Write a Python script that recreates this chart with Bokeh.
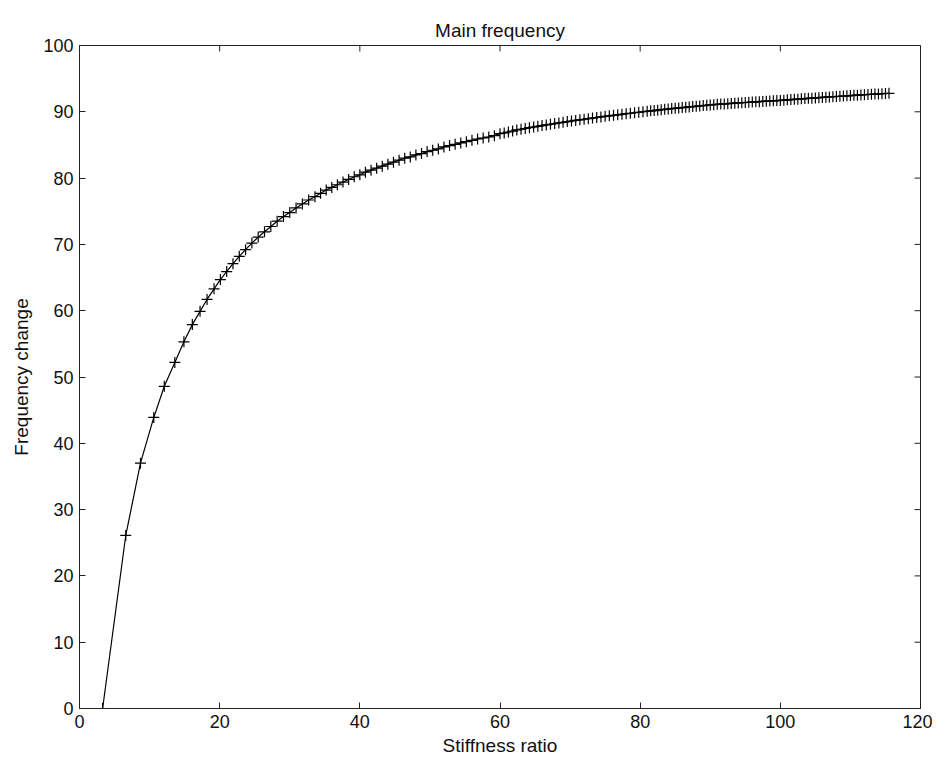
import math
from bokeh.plotting import figure
from bokeh.models import Range1d, FixedTicker
from bokeh.embed import file_html
from bokeh.resources import INLINE

stiffness_ratio = [
    3.3, 6.6, 8.7, 10.6, 12.1, 13.6, 14.9, 16.1, 17.2, 18.2, 19.2, 20.1, 21.0, 21.9, 22.8, 23.7,
    24.6, 25.5, 26.4, 27.3, 28.2, 29.1, 30.0, 30.9, 31.8, 32.7, 33.6, 34.4, 35.2, 36.0, 36.8,
    37.6, 38.4, 39.2, 40.0, 40.8, 41.6, 42.4, 43.2, 44.0, 44.8, 45.6, 46.4, 47.2, 48.0, 48.8,
    49.6, 50.4, 51.2, 52.0, 52.8, 53.6, 54.4, 55.2, 56.0, 56.8, 57.6, 58.4, 59.2, 60.0, 60.6,
    61.2, 61.8, 62.4, 63.0, 63.6, 64.2, 64.8, 65.4, 66.0, 66.6, 67.2, 67.8, 68.4, 69.0, 69.6,
    70.2, 70.8, 71.4, 72.0, 72.6, 73.2, 73.8, 74.4, 75.0, 75.6, 76.2, 76.8, 77.4, 78.0, 78.6,
    79.2, 79.8, 80.4, 81.0, 81.5, 82.0, 82.5, 83.0, 83.5, 84.0, 84.5, 85.0, 85.5, 86.0, 86.5,
    87.0, 87.5, 88.0, 88.5, 89.0, 89.5, 90.0, 90.5, 91.0, 91.5, 92.0, 92.5, 93.0, 93.5, 94.0,
    94.5, 95.0, 95.5, 96.0, 96.5, 97.0, 97.5, 98.0, 98.5, 99.0, 99.5, 100.0, 100.5, 101.0,
    101.5, 102.0, 102.5, 103.0, 103.5, 104.0, 104.5, 105.0, 105.5, 106.0, 106.5, 107.0, 107.5,
    108.0, 108.5, 109.0, 109.5, 110.0, 110.5, 111.0, 111.5, 112.0, 112.5, 113.0, 113.5, 114.0,
    114.5, 115.0, 115.5,
]
frequency_change = [
    0.0, 26.1, 37.0, 43.9, 48.6, 52.2, 55.3, 57.9, 59.9, 61.7, 63.3, 64.7, 65.9, 67.1, 68.2, 69.2,
    70.2, 71.1, 71.9, 72.7, 73.5, 74.2, 74.8, 75.5, 76.1, 76.7, 77.2, 77.7, 78.2, 78.6, 79.0,
    79.4, 79.8, 80.2, 80.5, 80.9, 81.2, 81.5, 81.8, 82.1, 82.4, 82.7, 83.0, 83.2, 83.5, 83.7,
    84.0, 84.2, 84.4, 84.7, 84.9, 85.1, 85.3, 85.5, 85.7, 85.9, 86.05, 86.2, 86.4, 86.7, 86.8,
    86.95, 87.1, 87.26, 87.37, 87.48, 87.6, 87.71, 87.81, 87.92, 88.02, 88.12, 88.23, 88.32, 88.42, 88.52,
    88.61, 88.7, 88.79, 88.88, 88.97, 89.06, 89.14, 89.23, 89.31, 89.39, 89.47, 89.55, 89.63, 89.71, 89.78,
    89.86, 89.93, 90.01, 90.08, 90.14, 90.19, 90.25, 90.31, 90.37, 90.42, 90.48, 90.53, 90.58, 90.64, 90.69,
    90.74, 90.79, 90.84, 90.89, 90.94, 90.99, 91.04, 91.07, 91.12, 91.16, 91.19, 91.23, 91.26, 91.30, 91.34,
    91.37, 91.40, 91.44, 91.47, 91.50, 91.53, 91.57, 91.60, 91.63, 91.66, 91.69, 91.72, 91.76, 91.80,
    91.84, 91.88, 91.91, 91.95, 91.99, 92.03, 92.06, 92.10, 92.13, 92.17, 92.21, 92.24, 92.28,
    92.31, 92.34, 92.38, 92.41, 92.44, 92.48, 92.51, 92.54, 92.57, 92.61, 92.64, 92.67, 92.70,
    92.73, 92.76, 92.79,
]
x_ticks = [0, 20, 40, 60, 80, 100, 120]
y_ticks = [0, 10, 20, 30, 40, 50, 60, 70, 80, 90, 100]
x_min, x_max = 0, 120
y_min, y_max = 0, 100

FONT = "Liberation Sans"
INK = "#222222"

p = figure(
    frame_width=841, frame_height=663,
    x_range=Range1d(x_min, x_max), y_range=Range1d(y_min, y_max),
    output_backend="svg", toolbar_location=None,
    min_border_left=79, min_border_right=12, min_border_top=45, min_border_bottom=10,
    background_fill_color="white", border_fill_color="white",
)
p.outline_line_color = INK
p.outline_line_width = 1
p.xgrid.visible = False
p.ygrid.visible = False

p.title.text = "Main frequency"
p.title.align = "center"
p.title.text_font = FONT
p.title.text_font_size = "19px"
p.title.text_font_style = "normal"
p.title.text_color = "#111111"

for ax in (p.xaxis[0], p.yaxis[0]):
    ax.axis_line_color = INK
    ax.axis_line_width = 1
    ax.major_tick_in = 6
    ax.major_tick_out = 0
    ax.major_tick_line_color = INK
    ax.minor_tick_line_color = None
    ax.major_label_text_font = FONT
    ax.major_label_text_font_size = "18px"
    ax.major_label_text_color = "#111111"
    ax.major_label_standoff = 6
    ax.axis_label_text_font = FONT
    ax.axis_label_text_font_style = "normal"
    ax.axis_label_text_font_size = "19px"
    ax.axis_label_text_color = "#111111"

p.xaxis.ticker = FixedTicker(ticks=x_ticks)
p.yaxis.ticker = FixedTicker(ticks=y_ticks)
p.xaxis.axis_label = "Stiffness ratio"
p.yaxis.axis_label = "Frequency change"
p.xaxis.axis_label_standoff = 4
p.yaxis.axis_label_standoff = 8

# inward tick marks on the top and right edges of the box (MATLAB style)
p.ray(x=x_ticks, y=[y_max] * len(x_ticks), length=6, length_units="screen",
      angle=-math.pi / 2, line_color=INK, line_width=1)
p.ray(x=[x_max] * len(y_ticks), y=y_ticks, length=6, length_units="screen",
      angle=math.pi, line_color=INK, line_width=1)

p.line(stiffness_ratio, frequency_change, line_color="black", line_width=1.2)
p.scatter(stiffness_ratio, frequency_change, marker="cross", size=11,
          line_color="black", line_width=1.2)

open("out.html", "w").write(file_html(p, INLINE))
